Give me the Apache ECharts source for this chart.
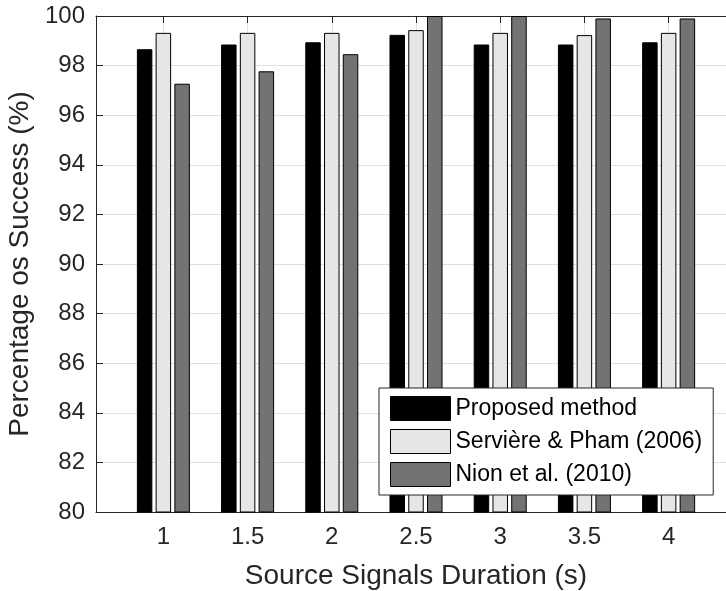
<!DOCTYPE html>
<html>
<head>
<meta charset="utf-8">
<script src="https://cdn.jsdelivr.net/npm/echarts@6/dist/echarts.min.js"></script>
<style>
  html, body { margin: 0; padding: 0; background: #fff; }
  #chart { width: 726px; height: 591px; }
</style>
</head>
<body>
<div id="chart"></div>
<script>
// Signal durations (s) and success rates (%) for each method
const durations = [1, 1.5, 2, 2.5, 3, 3.5, 4];
const proposed = [98.66, 98.85, 98.94, 99.24, 98.85, 98.85, 98.94];
const serviere = [99.32, 99.32, 99.32, 99.43, 99.32, 99.23, 99.32];
const nion = [97.27, 97.77, 98.46, 100, 100, 99.9, 99.9];
const seriesNames = ['Proposed method', 'Servière & Pham (2006)', 'Nion et al. (2010)'];

const FONT = "'Liberation Sans', Arial, Helvetica, sans-serif";
const INK = '#262626';
const GRID = '#dfdfdf';

const pairs = vals => durations.map((d, i) => [d, vals[i]]);

function barSeries(name, vals, color) {
  return {
    name: name,
    type: 'bar',
    data: pairs(vals),
    barWidth: 15.5,
    barGap: '21%',
    itemStyle: { color: color, borderColor: '#000', borderWidth: 1 }
  };
}

const chart = echarts.init(document.getElementById('chart'), null, { renderer: 'canvas' });

// The axes box runs past the right edge of the canvas, so only its left, top and bottom sides show
chart.setOption({
  animation: false,
  backgroundColor: '#fff',
  textStyle: { fontFamily: FONT },
  grid: { left: 96, top: 16, width: 640, height: 496, containLabel: false, outerBoundsMode: 'none' },
  legend: {
    orient: 'vertical',
    left: 379,
    top: 388,
    padding: [8, 11, 8, 11],
    itemWidth: 60,
    itemHeight: 24,
    itemGap: 8,
    icon: 'rect',
    backgroundColor: '#fff',
    borderColor: INK,
    borderWidth: 1,
    data: seriesNames,
    itemStyle: { borderColor: '#000', borderWidth: 1 },
    textStyle: { fontFamily: FONT, fontSize: 23, color: '#000' }
  },
  xAxis: [
    {
      type: 'value',
      min: 0.6,
      max: 4.4,
      name: 'Source Signals Duration (s)',
      nameLocation: 'middle',
      nameGap: 50,
      nameTextStyle: { fontFamily: FONT, fontSize: 28, color: INK },
      axisLine: { show: true, onZero: false, lineStyle: { color: INK, width: 1 } },
      axisTick: { show: true, inside: true, length: 7, customValues: durations, lineStyle: { color: INK } },
      axisLabel: { customValues: durations, margin: 13, fontFamily: FONT, fontSize: 24, color: INK },
      splitLine: { show: true, lineStyle: { color: GRID, width: 1 } }
    },
    {
      type: 'value',
      position: 'top',
      min: 0.6,
      max: 4.4,
      axisLine: { show: true, onZero: false, lineStyle: { color: INK, width: 1 } },
      axisTick: { show: true, inside: true, length: 7, customValues: durations, lineStyle: { color: INK } },
      axisLabel: { show: false },
      splitLine: { show: false }
    }
  ],
  yAxis: {
    type: 'value',
    min: 80,
    max: 100,
    interval: 2,
    name: 'Percentage os Success (%)',
    nameLocation: 'middle',
    nameGap: 55,
    nameTextStyle: { fontFamily: FONT, fontSize: 28, color: INK },
    axisLine: { show: true, onZero: false, lineStyle: { color: INK, width: 1 } },
    axisTick: { show: true, inside: true, length: 7, lineStyle: { color: INK } },
    axisLabel: { margin: 11, fontFamily: FONT, fontSize: 24, color: INK },
    splitLine: { show: true, lineStyle: { color: GRID, width: 1 } }
  },
  series: [
    barSeries(seriesNames[0], proposed, '#000000'),
    barSeries(seriesNames[1], serviere, '#e6e6e6'),
    barSeries(seriesNames[2], nion, '#737373')
  ]
});
</script>
</body>
</html>
